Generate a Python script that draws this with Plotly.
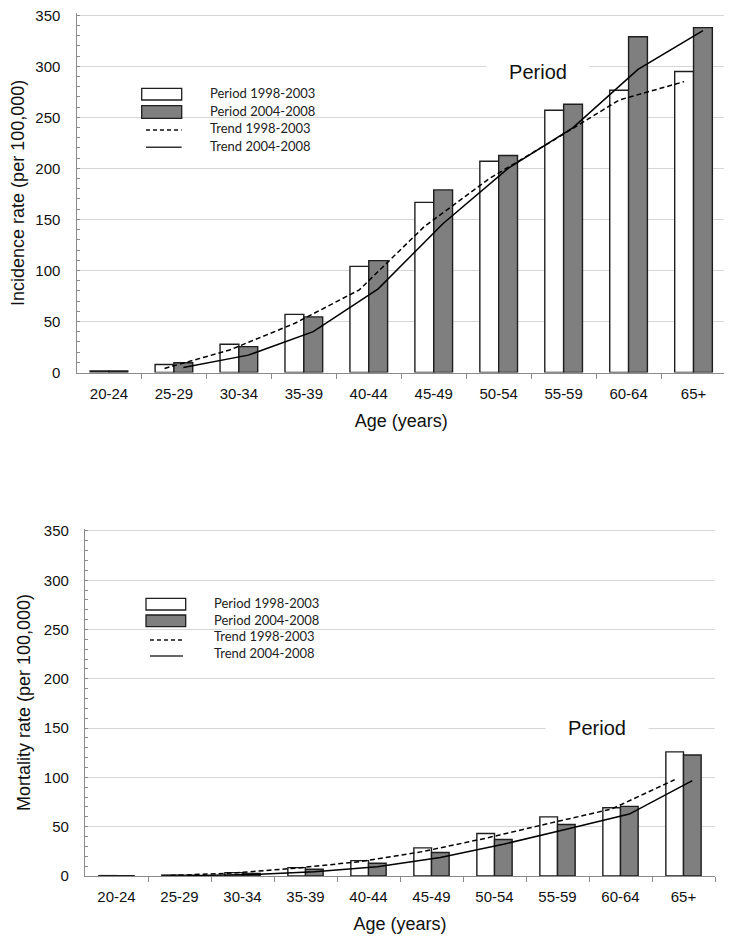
import plotly.graph_objects as go

# ---------------- data ----------------
age_groups = ["20-24", "25-29", "30-34", "35-39", "40-44", "45-49", "50-54", "55-59", "60-64", "65+"]

incidence_1998_2003 = [1.5, 7.8, 27.7, 57.0, 104.0, 166.7, 207.0, 256.9, 276.6, 294.9]
incidence_2004_2008 = [1.5, 9.5, 25.4, 54.5, 109.6, 178.9, 212.6, 262.8, 329.0, 337.9]
incidence_trend_1998_2003 = [None, 4, 22, 48, 81, 143, 190, 228, 267, 285]
incidence_trend_2004_2008 = [None, 5, 17, 40, 82, 146, 200, 240, 297, 335]

mortality_1998_2003 = [0.4, 1.0, 3.4, 8.5, 15.6, 28.5, 43.1, 60.0, 69.2, 125.9]
mortality_2004_2008 = [0.3, 0.8, 2.5, 6.8, 12.9, 23.8, 37.0, 52.3, 70.6, 122.8]
mortality_trend_1998_2003 = [None, 0.5, 3.0, 8.0, 14.6, 24.8, 38.3, 53.3, 68.0, 97.7]
mortality_trend_2004_2008 = [None, 0.3, 1.5, 4.4, 9.5, 18.7, 32.2, 47.5, 62.8, 96.7]

series_names = ["Period 1998-2003", "Period 2004-2008", "Trend 1998-2003", "Trend 2004-2008"]
y_titles = ["Incidence rate (per 100,000)", "Mortality rate (per 100,000)"]
x_title = "Age (years)"
period_label = "Period"

# ---------------- helpers ----------------
OFF = 8  # page body margin
W, H = 732 - OFF, 939 - OFF
def px(x):
    return (x - OFF) / W
def py(y):
    return 1 - (y - OFF) / H

idx = list(range(len(age_groups)))
AX_FONT = "Liberation Sans, Arial, sans-serif"
LEG_FONT = "Lato, Calibri, sans-serif"
GRID = "#d6d6d6"
AXLINE = "#8a8a8a"
EDGE = "#1e1e1e"
GRAYFILL = "#7f7f7f"
YMAX = 352

fig = go.Figure()

panels = [
    dict(xa="x", ya="y", w=0.29,
         bars=(incidence_1998_2003, incidence_2004_2008),
         trends=(incidence_trend_1998_2003, incidence_trend_2004_2008)),
    dict(xa="x2", ya="y2", w=0.28,
         bars=(mortality_1998_2003, mortality_2004_2008),
         trends=(mortality_trend_1998_2003, mortality_trend_2004_2008)),
]

for p in panels:
    w = p["w"]
    fig.add_trace(go.Bar(x=idx, y=p["bars"][0], width=w, offset=-w,
                         marker=dict(color="white", line=dict(color=EDGE, width=1.4)),
                         name=series_names[0], showlegend=False,
                         xaxis=p["xa"], yaxis=p["ya"]))
    fig.add_trace(go.Bar(x=idx, y=p["bars"][1], width=w, offset=0,
                         marker=dict(color=GRAYFILL, line=dict(color=EDGE, width=1.4)),
                         name=series_names[1], showlegend=False,
                         xaxis=p["xa"], yaxis=p["ya"]))
    fig.add_trace(go.Scatter(x=[i - w / 2 for i in idx], y=p["trends"][0], mode="lines",
                             line=dict(color="black", width=1.5, dash="5px,3px"),
                             name=series_names[2], showlegend=False,
                             xaxis=p["xa"], yaxis=p["ya"]))
    fig.add_trace(go.Scatter(x=[i + w / 2 for i in idx], y=p["trends"][1], mode="lines",
                             line=dict(color="black", width=1.5),
                             name=series_names[3], showlegend=False,
                             xaxis=p["xa"], yaxis=p["ya"]))

def xaxis_cfg(domain, anchor):
    return dict(domain=domain, anchor=anchor, range=[-0.5, 9.5], automargin=False,
                tickmode="array", tickvals=idx, ticktext=age_groups, ticks="",
                tickfont=dict(family=AX_FONT, size=15, color="#111"),
                ticklabeloverflow="allow",
                showline=True, linecolor=AXLINE, linewidth=1.2,
                showgrid=False, zeroline=False,
                minor=dict(tickmode="array", tickvals=[i + 0.5 for i in idx],
                           ticks="outside", ticklen=5, tickcolor=AXLINE, tickwidth=1),
                title=dict(text=x_title, font=dict(family=AX_FONT, size=18, color="#111"),
                           standoff=13),
                ticklabelstandoff=7)

def yaxis_cfg(domain, anchor, title):
    return dict(domain=domain, anchor=anchor, range=[0, YMAX],
                tickmode="array", tickvals=[0, 50, 100, 150, 200, 250, 300, 350],
                automargin=False, ticklabeloverflow="allow",
                tickfont=dict(family=AX_FONT, size=15, color="#111"),
                ticks="inside", ticklen=3, tickcolor=AXLINE,
                showline=True, linecolor=AXLINE, linewidth=1.2,
                showgrid=True, gridcolor=GRID, gridwidth=1.3, zeroline=False,
                minor=dict(tickmode="array", tickvals=list(range(10, 350, 10)),
                           ticks="inside", ticklen=3, tickcolor=AXLINE, showgrid=False),
                title=dict(text=title, font=dict(family=AX_FONT, size=18, color="#111"),
                           standoff=8),
                ticklabelstandoff=12)

# top panel: 0 at y=372.5px, 350 at y=15.3px ; bottom: 0 at 876px, 350 at 531px
top_ppu = (372.5 - 15.3) / 350
bot_ppu = (876 - 531) / 350

fig.update_layout(
    width=W, height=H, autosize=False,
    margin=dict(l=0, r=0, t=0, b=0),
    paper_bgcolor="white", plot_bgcolor="white",
    showlegend=False,
    xaxis=xaxis_cfg([px(76.5), px(726)], "y"),
    yaxis=yaxis_cfg([py(372.5), py(372.5 - YMAX * top_ppu)], "x", y_titles[0]),
    xaxis2=xaxis_cfg([px(85), px(715)], "y2"),
    yaxis2=yaxis_cfg([py(876), py(876 - YMAX * bot_ppu)], "x2", y_titles[1]),
)

# ---------------- manual legends & "Period" labels ----------------
legends = [
    dict(bg=(133, 323, 82, 155), box=(141.7, 181.7), line=(146, 181.7),
         boxes=((88.3, 100), (105.7, 118.3)), lines=(130, 147.3),
         tx=208.3, rows=(92.7, 110.7, 128.3, 146.0)),
    dict(bg=(136.7, 323.3, 592, 662), box=(146, 185.7), line=(150, 183),
         boxes=((598.3, 610), (615, 626.7)), lines=(640, 656),
         tx=212.3, rows=(602.7, 620.0, 636.0, 653.3)),
]
shapes = []
annotations = []
for lg in legends:
    x0, x1, y0, y1 = lg["bg"]
    shapes.append(dict(type="rect", xref="paper", yref="paper", x0=px(x0), x1=px(x1),
                       y0=py(y1), y1=py(y0), fillcolor="white", line=dict(width=0),
                       layer="between"))
    for (b0, b1), fill in zip(lg["boxes"], ["white", GRAYFILL]):
        shapes.append(dict(type="rect", xref="paper", yref="paper",
                           x0=px(lg["box"][0]), x1=px(lg["box"][1]), y0=py(b1), y1=py(b0),
                           fillcolor=fill, line=dict(color=EDGE, width=1.3)))
    for ly, dash in zip(lg["lines"], ["dash", "solid"]):
        shapes.append(dict(type="line", xref="paper", yref="paper",
                           x0=px(lg["line"][0]), x1=px(lg["line"][1]), y0=py(ly), y1=py(ly),
                           line=dict(color="#111" if dash == "dash" else "#333", width=1.4,
                                     dash="4px,3px" if dash == "dash" else "solid")))
    for name, ry in zip(series_names, lg["rows"]):
        annotations.append(dict(text=name, xref="paper", yref="paper", x=px(lg["tx"]), y=py(ry),
                                xanchor="left", yanchor="middle", showarrow=False,
                                font=dict(family=LEG_FONT, size=13, color="#222")))

for (cx, cy) in [(538, 71.7), (596.7, 727.7)]:
    annotations.append(dict(text=period_label, xref="paper", yref="paper", x=px(cx), y=py(cy),
                            xanchor="center", yanchor="middle", showarrow=False,
                            width=100, bgcolor="white",
                            font=dict(family=AX_FONT, size=20, color="#111")))

fig.update_layout(shapes=shapes, annotations=annotations)

fig.write_html("out.html")
